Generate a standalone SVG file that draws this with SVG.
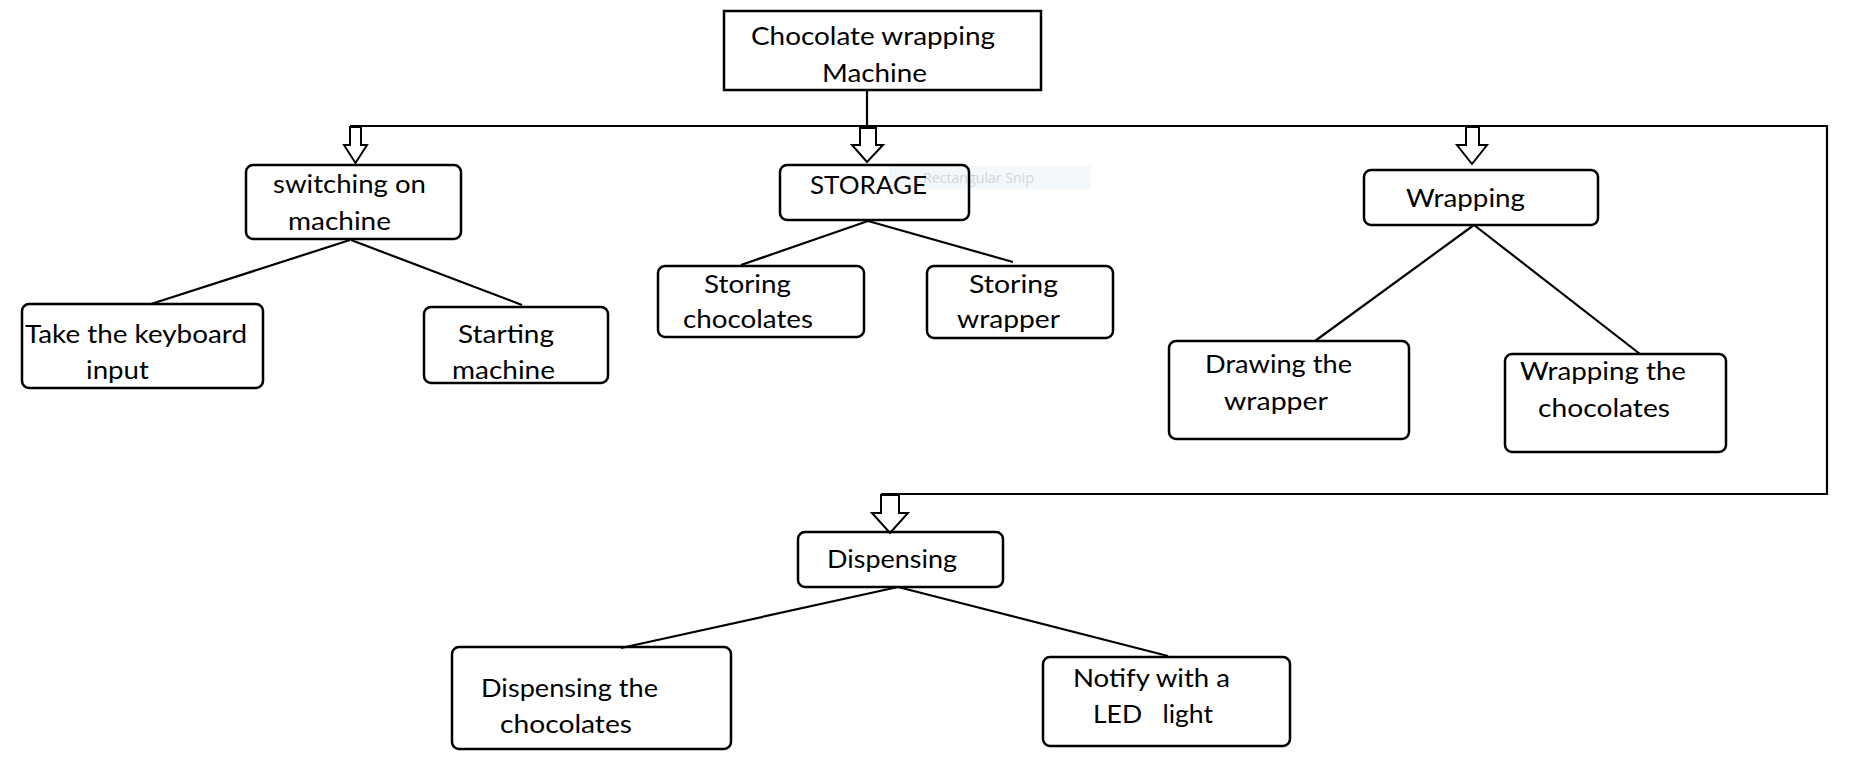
<svg xmlns="http://www.w3.org/2000/svg" width="1853" height="774" viewBox="0 0 1853 774">
<style>
  .bg { fill: #ffffff; }
  .box { fill: none; stroke: #000; stroke-width: 2.5; }
  .link { fill: none; stroke: #000; stroke-width: 2.2; }
  .arrow { fill: #fff; stroke: #000; stroke-width: 2; stroke-linejoin: miter; }
  .t { font-family: Lato, "Liberation Sans", sans-serif; font-size: 25px; fill: #000; }
  .snip { font-family: "Open Sans", "Liberation Sans", sans-serif; font-size: 14px; fill: #d2d5d9; }
</style>
<rect class="bg" x="0" y="0" width="1853" height="774"/>

<rect x="889" y="166" width="202" height="23" fill="#f3f8fd"/>
<text class="snip" x="923" y="183" textLength="111" lengthAdjust="spacingAndGlyphs">Rectangular Snip</text>

<g id="connectors">
  <polyline class="link" points="867,90 867,126"/>
  <polyline class="link" points="350,126 1827,126 1827,494 881,494"/>
  <line class="link" x1="350" y1="240" x2="151" y2="304"/>
  <line class="link" x1="351" y1="240" x2="522" y2="305"/>
  <line class="link" x1="868" y1="221" x2="741" y2="265"/>
  <line class="link" x1="868" y1="221" x2="1013" y2="262"/>
  <line class="link" x1="1474" y1="225" x2="1315" y2="341"/>
  <line class="link" x1="1474" y1="225" x2="1640" y2="354"/>
  <line class="link" x1="898" y1="587" x2="621" y2="648"/>
  <line class="link" x1="898" y1="587" x2="1168" y2="656"/>
  <polygon class="arrow" points="350,127 361,127 361,145 367,145 355.5,163 344,145 350,145"/>
  <polygon class="arrow" points="860,128 876,128 876,145 883,145 867,162 852,145 860,145"/>
  <polygon class="arrow" points="1466,127 1479,127 1479,145 1487,145 1472,164 1457,145 1466,145"/>
  <polygon class="arrow" points="881,495 899,495 899,513 908,513 890,533 872,513 881,513"/>
</g>

<g id="node-root">
  <rect class="box" x="724" y="11" width="317" height="79"/>
  <text class="t" x="751" y="45" textLength="244" lengthAdjust="spacingAndGlyphs">Chocolate wrapping</text>
  <text class="t" x="822" y="82" textLength="105" lengthAdjust="spacingAndGlyphs">Machine</text>
</g>

<g id="node-switching">
  <rect class="box" x="246" y="165" width="215" height="74" rx="7"/>
  <text class="t" x="273" y="193" textLength="153" lengthAdjust="spacingAndGlyphs">switching on</text>
  <text class="t" x="288" y="230" textLength="103" lengthAdjust="spacingAndGlyphs">machine</text>
</g>

<g id="node-keyboard">
  <rect class="box" x="22" y="304" width="241" height="84" rx="7"/>
  <text class="t" x="25" y="343" textLength="222" lengthAdjust="spacingAndGlyphs">Take the keyboard</text>
  <text class="t" x="86" y="379" textLength="63" lengthAdjust="spacingAndGlyphs">input</text>
</g>

<g id="node-starting">
  <rect class="box" x="424" y="307" width="184" height="76" rx="7"/>
  <text class="t" x="458" y="343" textLength="96" lengthAdjust="spacingAndGlyphs">Starting</text>
  <text class="t" x="452" y="379" textLength="103" lengthAdjust="spacingAndGlyphs">machine</text>
</g>

<g id="node-storage">
  <rect class="box" x="780" y="165" width="189" height="55" rx="7"/>
  <text class="t" x="810" y="194" textLength="117" lengthAdjust="spacingAndGlyphs">STORAGE</text>
</g>

<g id="node-storing-chocolates">
  <rect class="box" x="658" y="266" width="206" height="71" rx="7"/>
  <text class="t" x="704" y="293" textLength="87" lengthAdjust="spacingAndGlyphs">Storing</text>
  <text class="t" x="683" y="328" textLength="130" lengthAdjust="spacingAndGlyphs">chocolates</text>
</g>

<g id="node-storing-wrapper">
  <rect class="box" x="927" y="266" width="186" height="72" rx="7"/>
  <text class="t" x="969" y="293" textLength="89" lengthAdjust="spacingAndGlyphs">Storing</text>
  <text class="t" x="957" y="328" textLength="103" lengthAdjust="spacingAndGlyphs">wrapper</text>
</g>

<g id="node-wrapping">
  <rect class="box" x="1364" y="170" width="234" height="55" rx="7"/>
  <text class="t" x="1406" y="207" textLength="119" lengthAdjust="spacingAndGlyphs">Wrapping</text>
</g>

<g id="node-drawing">
  <rect class="box" x="1169" y="341" width="240" height="98" rx="7"/>
  <text class="t" x="1205" y="373" textLength="147" lengthAdjust="spacingAndGlyphs">Drawing the</text>
  <text class="t" x="1224" y="410" textLength="104" lengthAdjust="spacingAndGlyphs">wrapper</text>
</g>

<g id="node-wrapping-chocolates">
  <rect class="box" x="1505" y="354" width="221" height="98" rx="7"/>
  <text class="t" x="1520" y="380" textLength="166" lengthAdjust="spacingAndGlyphs">Wrapping the</text>
  <text class="t" x="1538" y="417" textLength="132" lengthAdjust="spacingAndGlyphs">chocolates</text>
</g>

<g id="node-dispensing">
  <rect class="box" x="798" y="532" width="205" height="55" rx="7"/>
  <text class="t" x="827" y="568" textLength="130" lengthAdjust="spacingAndGlyphs">Dispensing</text>
</g>

<g id="node-dispensing-chocolates">
  <rect class="box" x="452" y="647" width="279" height="102" rx="7"/>
  <text class="t" x="481" y="697" textLength="177" lengthAdjust="spacingAndGlyphs">Dispensing the</text>
  <text class="t" x="500" y="733" textLength="132" lengthAdjust="spacingAndGlyphs">chocolates</text>
</g>

<g id="node-notify">
  <rect class="box" x="1043" y="657" width="247" height="89" rx="7"/>
  <text class="t" x="1073" y="687" textLength="157" lengthAdjust="spacingAndGlyphs">Notify with a</text>
  <text class="t" x="1093" y="723" textLength="120" lengthAdjust="spacingAndGlyphs" xml:space="preserve">LED   light</text>
</g>
</svg>
